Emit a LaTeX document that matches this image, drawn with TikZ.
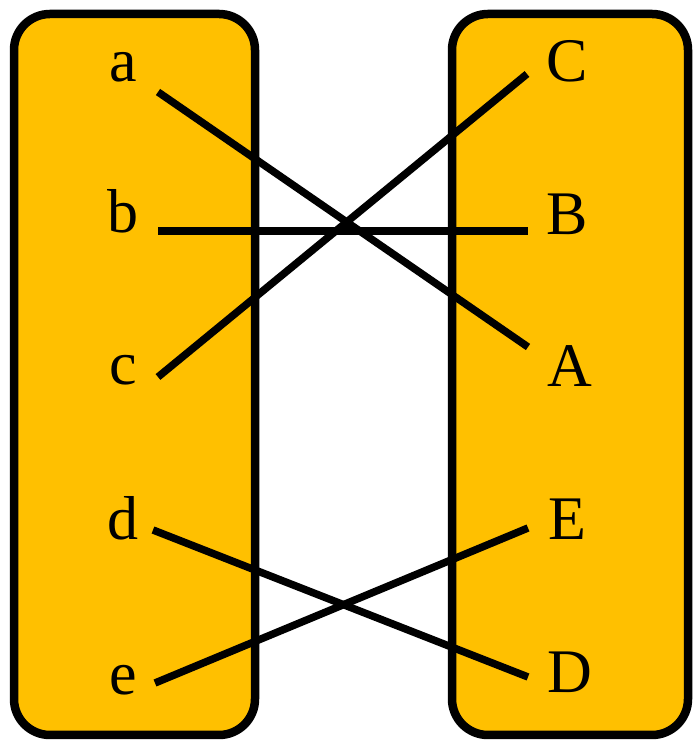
\documentclass[tikz,border=0pt]{standalone}
\usepackage{fontspec}
\setmainfont{Liberation Serif}
\definecolor{gold}{HTML}{FFC000}
\begin{document}
\begin{tikzpicture}[x=1pt,y=1pt,
  setbox/.style={draw=black,line width=8.5pt,rounded corners=36pt,fill=gold},
  lbl/.style={inner sep=0pt,anchor=base,font=\fontsize{62}{62}\selectfont},
  link/.style={line width=7.5pt}]
\useasboundingbox (0,0) rectangle (693,741);
\draw[setbox] (14,6) rectangle (255,727);
\draw[setbox] (452,6) rectangle (688,727);
% left labels
\node[lbl] (a) at (123,659) {a};
\node[lbl] (b) at (123,508) {b};
\node[lbl] (c) at (123,356) {c};
\node[lbl] (d) at (123,201) {d};
\node[lbl] (e) at (123,46) {e};
% right labels
\node[lbl] (C) at (567,659) {C};
\node[lbl] (B) at (567,506) {B};
\node[lbl] (A) at (570,354) {A};
\node[lbl] (E) at (567,201) {E};
\node[lbl] (D) at (570,48) {D};
% connector ends
\coordinate (a1) at (158,649);
\coordinate (b1) at (158,510);
\coordinate (c1) at (158,364);
\coordinate (d1) at (153,211);
\coordinate (e1) at (155,58);
\coordinate (A1) at (528,394);
\coordinate (B1) at (528,510);
\coordinate (C1) at (527,667);
\coordinate (D1) at (528,64);
\coordinate (E1) at (528,213);
\draw[link] (a1) -- (A1);
\draw[link] (b1) -- (B1);
\draw[link] (c1) -- (C1);
\draw[link] (d1) -- (D1);
\draw[link] (e1) -- (E1);
\end{tikzpicture}
\end{document}
